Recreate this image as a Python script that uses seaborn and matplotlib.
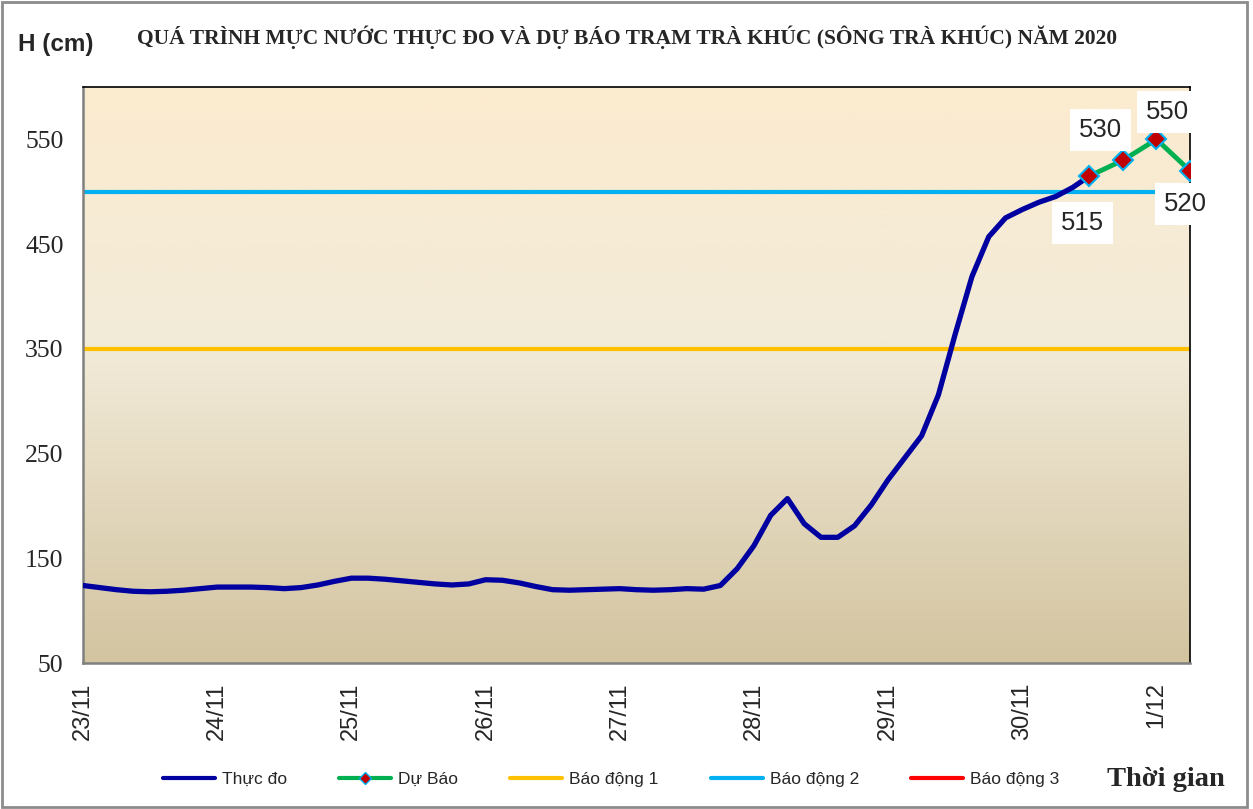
import numpy as np
import pandas as pd
import matplotlib
matplotlib.use("Agg")
import matplotlib.pyplot as plt
import seaborn as sns
from matplotlib.colors import LinearSegmentedColormap
from matplotlib.patches import Rectangle
from matplotlib.lines import Line2D

# ---------------- data ----------------
day_labels = ["23/11", "24/11", "25/11", "26/11", "27/11", "28/11", "29/11", "30/11", "1/12"]
day_hours = [0, 24, 48, 72, 96, 120, 144, 168, 192]

# observed water level (Thực đo), every 3 hours from 23/11 00h
obs_hours = list(range(0, 181, 3))
obs_level = [124, 122, 120, 118.5, 118, 118.5, 119.5, 121,
             122.5, 122.5, 122.5, 122, 121, 122, 124.5, 128,
             131, 131, 130, 128.5, 127, 125.5, 124.5, 125.5,
             129.5, 129, 126.5, 123, 120, 119.5, 120, 120.5,
             121, 120, 119.5, 120, 121, 120.5, 124, 140,
             162, 191, 207, 183, 170, 170, 181, 201,
             225, 246, 267, 306, 364, 419, 457, 475,
             483, 490, 495.5, 504, 515]

# forecast (Dự Báo)
fc_hours = [180, 186, 192, 198]
fc_level = [515, 530, 550, 520]

# alarm levels
alarm_names = ["Báo động 1", "Báo động 2", "Báo động 3"]
alarm_levels = [350, 500, 650]
alarm_colors = ["#FFC000", "#00B0F0", "#FF0000"]

y_ticks = [50, 150, 250, 350, 450, 550]

obs_df = pd.DataFrame({"gio": obs_hours, "muc_nuoc": obs_level})
fc_df = pd.DataFrame({"gio": fc_hours, "muc_nuoc": fc_level})

# ---------------- figure ----------------
sns.set_style("white")
plt.rcParams["font.family"] = ["Liberation Sans", "DejaVu Sans"]

W, H = 1253, 809
fig = plt.figure(figsize=(W / 100, H / 100), dpi=100)
fig.patch.set_facecolor("white")
ax = fig.add_axes([83 / W, 1 - 663 / H, (1190 - 83) / W, (663 - 87) / H])

x_min, x_max = 0, 198
y_min, y_max = 50, 600

# gradient background
cmap = LinearSegmentedColormap.from_list(
    "parch", [(0.0, "#D3C4A0"), (0.55, "#F2EBD9"), (1.0, "#FCEBCF")])
grad = np.linspace(0, 1, 256).reshape(-1, 1)
ax.imshow(grad, extent=[x_min, x_max, y_min, y_max], aspect="auto",
          cmap=cmap, origin="lower", zorder=0, interpolation="bicubic")

# alarm lines
for name, lvl, col in zip(alarm_names, alarm_levels, alarm_colors):
    ax.axhline(lvl, color=col, lw=3.0, zorder=2, label=name)

# observed
sns.lineplot(data=obs_df, x="gio", y="muc_nuoc", ax=ax, color="#0000A0",
             lw=3.8, zorder=3, label="Thực đo", legend=False)
# forecast
sns.lineplot(data=fc_df, x="gio", y="muc_nuoc", ax=ax, color="#00B050",
             lw=3.5, zorder=4, marker="D", markersize=10,
             markerfacecolor="#C00000", markeredgecolor="#00B0F0",
             markeredgewidth=1.5, label="Dự Báo", legend=False)

# data labels
offsets = [(-5, -34), (-16, 22), (8, 20), (-3, -24)]
for hx, val, off in zip(fc_hours, fc_level, offsets):
    ax.annotate(f"{val}", (hx, val), xytext=off, textcoords="offset points",
                ha="center", va="center", fontsize=18.5, family="Liberation Sans",
                zorder=6, annotation_clip=False,
                bbox=dict(boxstyle="square,pad=0.35", fc="white", ec="none"))

ax.set_xlim(x_min, x_max)
ax.set_ylim(y_min, y_max)

# axes styling
for s in ["left", "bottom"]:
    ax.spines[s].set_color("#808080")
    ax.spines[s].set_linewidth(1.8)
for s in ["top", "right"]:
    ax.spines[s].set_color("black")
    ax.spines[s].set_linewidth(1.2)

ax.set_yticks(y_ticks)
ax.set_yticklabels([str(v) for v in y_ticks], family="Liberation Serif", fontsize=18.5)
ax.tick_params(axis="y", direction="out", length=9, width=1.5, color="#808080", pad=5)

ax.set_xticks(day_hours)
ax.set_xticklabels(day_labels, rotation=90, fontsize=17, family="Liberation Sans")
ax.set_xticks(list(range(0, 199, 6)), minor=True)
ax.tick_params(axis="x", which="both", direction="in", length=6, width=1.2,
               color="#808080", pad=14)
ax.set_xlabel("")
ax.set_ylabel("")
for lab in ax.get_xticklabels():
    lab.set_va("top")

# texts
fig.text(627 / W, 1 - 37 / H,
         "QUÁ TRÌNH MỰC NƯỚC THỰC ĐO VÀ DỰ BÁO TRẠM TRÀ KHÚC (SÔNG TRÀ KHÚC) NĂM 2020",
         ha="center", va="center", fontsize=15.5, fontweight="bold",
         family="Liberation Serif")
fig.text(18 / W, 1 - 44 / H, "H (cm)", ha="left", va="center", fontsize=17.5,
         fontweight="bold", family="Liberation Sans")
fig.text(1225 / W, 1 - 779 / H, "Thời gian", ha="right", va="center", fontsize=20.5,
         fontweight="bold", family="Liberation Serif")

# legend
handles = [
    Line2D([], [], color="#0000A0", lw=3),
    Line2D([], [], color="#00B050", lw=3, marker="D", markersize=6,
           markerfacecolor="#C00000", markeredgecolor="#00B0F0"),
] + [Line2D([], [], color=c, lw=3) for c in alarm_colors]
labels = ["Thực đo", "Dự Báo"] + alarm_names
fig.legend(handles, labels, loc="center", bbox_to_anchor=(611 / W, 1 - 779 / H),
           ncol=5, frameon=False, handlelength=3.0,
           handletextpad=0.4, columnspacing=3.0,
           prop={"family": "Liberation Sans", "size": 12.5})

# outer border
fig.patches.append(Rectangle((2 / W, 2 / H), 1 - 8 / W, 1 - 4 / H,
                             transform=fig.transFigure, fill=False,
                             ec="#8C8C8C", lw=2))

fig.savefig("out.png", dpi=100)
